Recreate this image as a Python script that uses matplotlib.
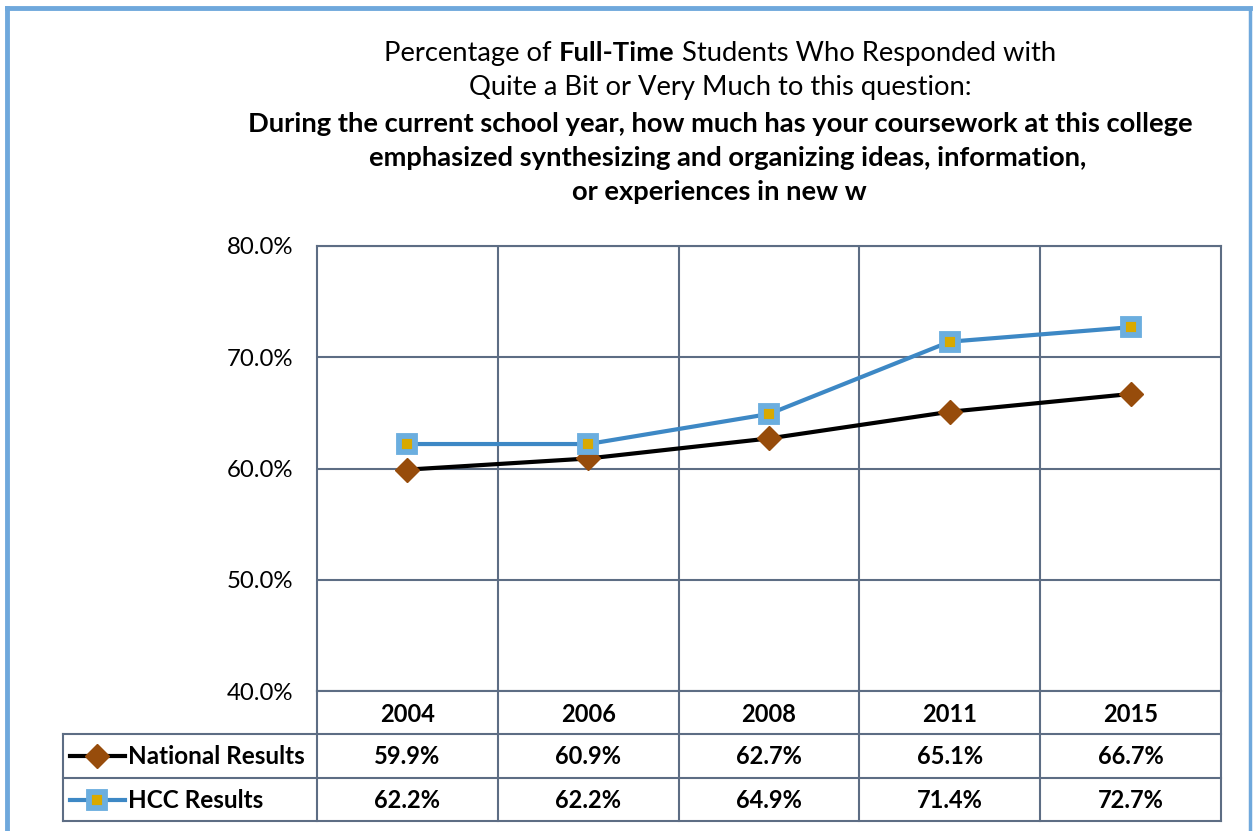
import matplotlib

matplotlib.use("Agg")

import matplotlib.pyplot as plt
from matplotlib.lines import Line2D

plt.rcParams["font.family"] = ["Lato", "DejaVu Sans"]

years = ["2004", "2006", "2008", "2011", "2015"]
national = [59.9, 60.9, 62.7, 65.1, 66.7]
hcc = [62.2, 62.2, 64.9, 71.4, 72.7]
series_names = ["National Results", "HCC Results"]
y_ticks = [40, 50, 60, 70, 80]

GRID = "#5D6D84"
FRAME = "#6FA8DC"
BROWN = "#974C0B"
BLUE = "#3D88C5"
GOLD = "#D8A900"
LIGHTBLUE = "#6BAEDF"

TITLE_FS = 19.7
TICK_FS = 17.3
TABLE_FS = 17

W, H = 1253, 831
fig = plt.figure(figsize=(W / 100, H / 100), dpi=100)


def fx(px):
    return px / W


def fy(py):
    return 1 - py / H


# outer frame
fig.add_artist(Line2D([fx(7), fx(7)], [fy(8), fy(840)], color=FRAME, lw=3.5))
fig.add_artist(Line2D([fx(7), fx(1250)], [fy(8), fy(8)], color=FRAME, lw=3.5))
fig.add_artist(Line2D([fx(1250), fx(1250)], [fy(8), fy(840)], color=FRAME, lw=2.5))

# plot area
L, R, T, B = 317, 1221, 246, 691
ax = fig.add_axes([fx(L), fy(B), fx(R) - fx(L), fy(T) - fy(B)])
x = list(range(len(years)))
nat_style = dict(color="black", lw=3, marker="D", ms=12, mfc=BROWN, mec=BROWN)
hcc_style = dict(color=BLUE, lw=3, marker="s", ms=11.5, mfc=GOLD, mec=LIGHTBLUE, mew=4.2)
ax.plot(x, national, zorder=3, **nat_style)
ax.plot(x, hcc, zorder=4, **hcc_style)
ax.set_xlim(-0.5, len(years) - 0.5)
ax.set_ylim(40, 80)
ax.set_yticks(y_ticks)
ax.set_yticklabels([f"{v:.1f}%" for v in y_ticks], fontsize=TICK_FS)
ax.set_xticks([i + 0.5 for i in range(len(years) - 1)])
ax.set_xticklabels([])
ax.tick_params(length=0, pad=17)
ax.grid(True, color=GRID, lw=1.5)
for s in ax.spines.values():
    s.set_color(GRID)
    s.set_linewidth(1.5)

# data table below the plot
trans = ax.get_xaxis_transform()


def ay(py):
    return (B - py) / (B - T)


rows = [691, 734, 778, 821]
left_edge = (63 - L) / (R - L)
for xb in [i - 0.5 for i in range(len(years) + 1)]:
    ax.add_artist(Line2D([xb, xb], [ay(rows[0]), ay(rows[-1])], transform=trans,
                         color=GRID, lw=1.5, clip_on=False))
for r in rows[1:]:
    ax.add_artist(Line2D([left_edge, 1], [ay(r)] * 2, transform=ax.transAxes,
                         color=GRID, lw=1.5, clip_on=False))
ax.add_artist(Line2D([left_edge, left_edge], [ay(rows[1]), ay(rows[-1])],
                     transform=ax.transAxes, color=GRID, lw=1.5, clip_on=False))

for i, yr in enumerate(years):
    ax.text(i, ay((rows[0] + rows[1]) / 2 + 2), yr, transform=trans, ha="center",
            va="center", fontsize=TABLE_FS, fontweight="bold")
for vals, r0, r1 in [(national, rows[1], rows[2]), (hcc, rows[2], rows[3])]:
    for i, v in enumerate(vals):
        ax.text(i, ay((r0 + r1) / 2 + 1), f"{v:.1f}%", transform=trans, ha="center",
                va="center", fontsize=TABLE_FS, fontweight="bold")

# legend keys inside table
for name, style, r0, r1 in zip(series_names, [nat_style, hcc_style], rows[1:3], rows[2:4]):
    yc = fy((r0 + r1) / 2)
    fig.add_artist(Line2D([fx(70), fx(97), fx(125)], [yc] * 3, markevery=[1], **style))
    fig.text(fx(128), fy((r0 + r1) / 2 + 1), name, ha="left", va="center",
             fontsize=17.5, fontweight="bold")

# title
renderer = fig.canvas.get_renderer()


def width(s, weight):
    t = fig.text(0, 0, s, fontsize=TITLE_FS, fontweight=weight)
    w = t.get_window_extent(renderer).width
    t.remove()
    return w


parts = [("Percentage of", "normal"), ("Full-Time", "bold"),
         ("Students Who Responded with", "normal")]
space = width("a a", "normal") - width("aa", "normal")
widths = [width(s, wt) for s, wt in parts]
total = sum(widths) + space * (len(parts) - 1)
xpos = 720 - total / 2
for (s, wt), w in zip(parts, widths):
    fig.text(fx(xpos), fy(53), s, ha="left", va="center", fontsize=TITLE_FS, fontweight=wt)
    xpos += w + space

fig.text(fx(720), fy(88), "Quite a Bit or Very Much to this question:", ha="center",
         va="center", fontsize=TITLE_FS)
fig.text(fx(720), fy(124), "During the current school year, how much has your coursework at this college",
         ha="center", va="center", fontsize=TITLE_FS, fontweight="bold")
fig.text(fx(728), fy(158), "emphasized synthesizing and organizing ideas, information,",
         ha="center", va="center", fontsize=TITLE_FS, fontweight="bold")
fig.text(fx(719), fy(192), "or experiences in new w", ha="center", va="center",
         fontsize=TITLE_FS, fontweight="bold")

fig.savefig("out.png", dpi=100, facecolor="white")
